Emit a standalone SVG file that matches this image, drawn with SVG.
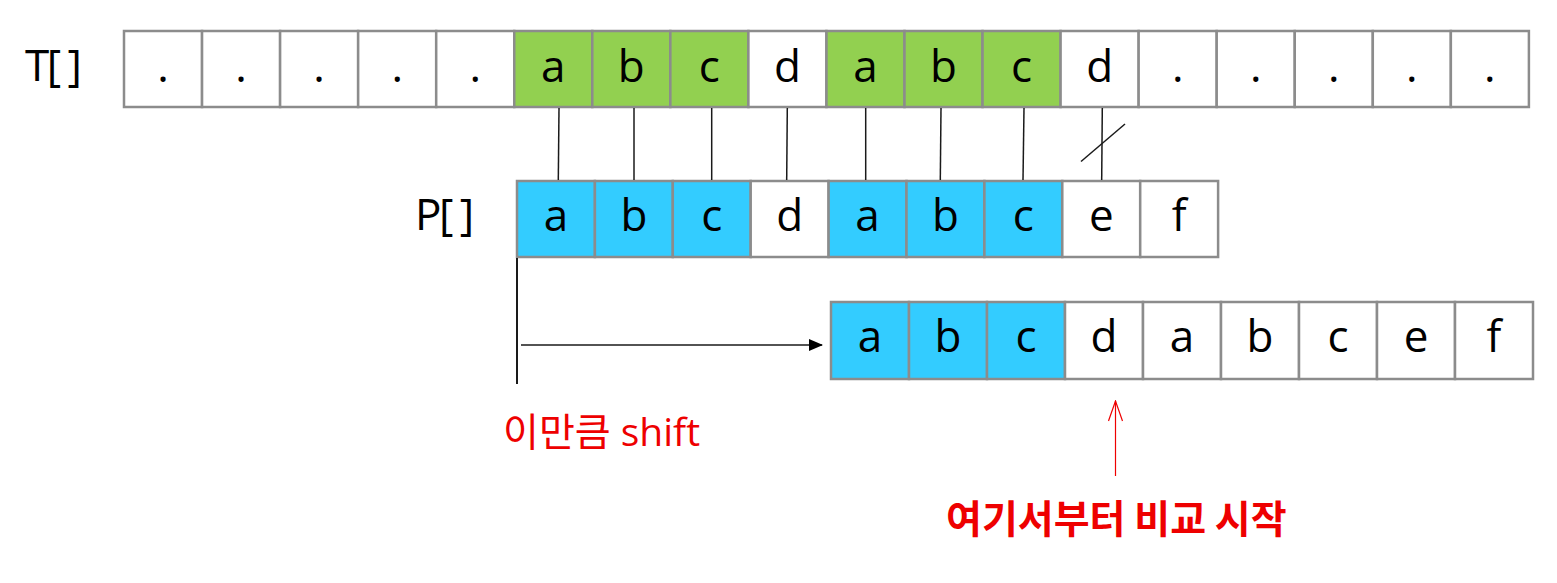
<svg xmlns="http://www.w3.org/2000/svg" width="1557" height="583" viewBox="0 0 1557 583">
<style>
.bg{fill:#ffffff}
.cell{fill:#ffffff;stroke:#8c8c8c;stroke-width:2.5}
.g{fill:#92d050}
.b{fill:#33ccff}
.ch{font-family:"Open Sans","Noto Sans",sans-serif;font-size:44px;fill:#000;text-anchor:middle}
.lab{font-family:"Open Sans","Noto Sans",sans-serif;font-size:44px;fill:#000}
.ln{stroke:#1a1a1a;stroke-width:1.5;fill:none}
.red{font-family:"Open Sans","Noto Sans CJK KR",sans-serif;font-size:39px;fill:#ee0000}
.redb{font-family:"Noto Sans CJK KR",sans-serif;font-size:39px;font-weight:bold;fill:#ee0000}
</style>
<defs>
<marker id="ah" markerWidth="14" markerHeight="12" refX="13" refY="6" orient="auto" markerUnits="userSpaceOnUse">
<path d="M0,0 L14,6 L0,12 Z" fill="#000"/>
</marker>
<marker id="rah" markerWidth="16" markerHeight="22" refX="8" refY="1" orient="0" markerUnits="userSpaceOnUse">
<path d="M1,21 L8,1 L15,21" fill="none" stroke="#ee0000" stroke-width="1.2"/>
</marker>
</defs>
<rect class="bg" x="0" y="0" width="1557" height="583"/>

<g id="T-label"><text class="lab" x="25" y="81" letter-spacing="-2.5">T[ ]</text></g>
<g id="T-array">
<rect class="cell" x="124" y="31" width="78.05" height="76"/><text class="ch" x="163.0" y="82">.</text>
<rect class="cell" x="202.05" y="31" width="78.05" height="76"/><text class="ch" x="241.1" y="82">.</text>
<rect class="cell" x="280.1" y="31" width="78.05" height="76"/><text class="ch" x="319.1" y="82">.</text>
<rect class="cell" x="358.15" y="31" width="78.05" height="76"/><text class="ch" x="397.2" y="82">.</text>
<rect class="cell" x="436.2" y="31" width="78.05" height="76"/><text class="ch" x="475.2" y="82">.</text>
<rect class="cell g" x="514.25" y="31" width="78.05" height="76"/><text class="ch" x="553.3" y="82">a</text>
<rect class="cell g" x="592.3" y="31" width="78.05" height="76"/><text class="ch" x="631.3" y="82">b</text>
<rect class="cell g" x="670.35" y="31" width="78.05" height="76"/><text class="ch" x="709.4" y="82">c</text>
<rect class="cell" x="748.4" y="31" width="78.05" height="76"/><text class="ch" x="787.4" y="82">d</text>
<rect class="cell g" x="826.45" y="31" width="78.05" height="76"/><text class="ch" x="865.5" y="82">a</text>
<rect class="cell g" x="904.5" y="31" width="78.05" height="76"/><text class="ch" x="943.5" y="82">b</text>
<rect class="cell g" x="982.55" y="31" width="78.05" height="76"/><text class="ch" x="1021.6" y="82">c</text>
<rect class="cell" x="1060.6" y="31" width="78.05" height="76"/><text class="ch" x="1099.6" y="82">d</text>
<rect class="cell" x="1138.65" y="31" width="78.05" height="76"/><text class="ch" x="1177.7" y="82">.</text>
<rect class="cell" x="1216.7" y="31" width="78.05" height="76"/><text class="ch" x="1255.7" y="82">.</text>
<rect class="cell" x="1294.75" y="31" width="78.05" height="76"/><text class="ch" x="1333.8" y="82">.</text>
<rect class="cell" x="1372.8" y="31" width="78.05" height="76"/><text class="ch" x="1411.8" y="82">.</text>
<rect class="cell" x="1450.85" y="31" width="78.05" height="76"/><text class="ch" x="1489.9" y="82">.</text>
</g>

<g id="P-label"><text class="lab" x="415" y="230" letter-spacing="-2.5">P[ ]</text></g>
<g id="P-array">
<rect class="cell b" x="517" y="181" width="77.9" height="76"/><text class="ch" x="556.0" y="231">a</text>
<rect class="cell b" x="594.9" y="181" width="77.9" height="76"/><text class="ch" x="633.9" y="231">b</text>
<rect class="cell b" x="672.8" y="181" width="77.9" height="76"/><text class="ch" x="711.8" y="231">c</text>
<rect class="cell" x="750.7" y="181" width="77.9" height="76"/><text class="ch" x="789.7" y="231">d</text>
<rect class="cell b" x="828.6" y="181" width="77.9" height="76"/><text class="ch" x="867.6" y="231">a</text>
<rect class="cell b" x="906.5" y="181" width="77.9" height="76"/><text class="ch" x="945.5" y="231">b</text>
<rect class="cell b" x="984.4" y="181" width="77.9" height="76"/><text class="ch" x="1023.4" y="231">c</text>
<rect class="cell" x="1062.3" y="181" width="77.9" height="76"/><text class="ch" x="1101.3" y="231">e</text>
<rect class="cell" x="1140.2" y="181" width="77.9" height="76"/><text class="ch" x="1179.2" y="231">f</text>
</g>

<g id="P-shifted">
<rect class="cell b" x="831" y="302" width="78" height="77"/><text class="ch" x="870" y="352">a</text>
<rect class="cell b" x="909" y="302" width="78" height="77"/><text class="ch" x="948" y="352">b</text>
<rect class="cell b" x="987" y="302" width="78" height="77"/><text class="ch" x="1026" y="352">c</text>
<rect class="cell" x="1065" y="302" width="78" height="77"/><text class="ch" x="1104" y="352">d</text>
<rect class="cell" x="1143" y="302" width="78" height="77"/><text class="ch" x="1182" y="352">a</text>
<rect class="cell" x="1221" y="302" width="78" height="77"/><text class="ch" x="1260" y="352">b</text>
<rect class="cell" x="1299" y="302" width="78" height="77"/><text class="ch" x="1338" y="352">c</text>
<rect class="cell" x="1377" y="302" width="78" height="77"/><text class="ch" x="1416" y="352">e</text>
<rect class="cell" x="1455" y="302" width="78" height="77"/><text class="ch" x="1494" y="352">f</text>
</g>

<g id="connectors">
<line class="ln" x1="559" y1="108" x2="558.3" y2="180"/>
<line class="ln" x1="634" y1="108" x2="634" y2="180"/>
<line class="ln" x1="711.7" y1="108" x2="711.7" y2="180"/>
<line class="ln" x1="787.3" y1="108" x2="786.7" y2="180"/>
<line class="ln" x1="865.7" y1="108" x2="865.7" y2="180"/>
<line class="ln" x1="941" y1="108" x2="940.3" y2="180"/>
<line class="ln" x1="1024" y1="108" x2="1023" y2="180"/>
<line class="ln" x1="1102.3" y1="108" x2="1101.7" y2="180"/>
<line class="ln" x1="1081" y1="161.5" x2="1125" y2="124"/>
<line class="ln" x1="517" y1="258" x2="517" y2="384" style="stroke-width:2"/>
<line class="ln" x1="521" y1="345" x2="822" y2="345" marker-end="url(#ah)"/>
<line x1="1115.5" y1="476" x2="1115.5" y2="401" stroke="#ee0000" stroke-width="1.2" marker-end="url(#rah)"/>
</g>

<g id="shift-label"><text class="red" x="503" y="446">이만큼 shift</text></g>
<g id="compare-label"><text class="redb" x="946" y="533">여기서부터 비교 시작</text></g>
</svg>
